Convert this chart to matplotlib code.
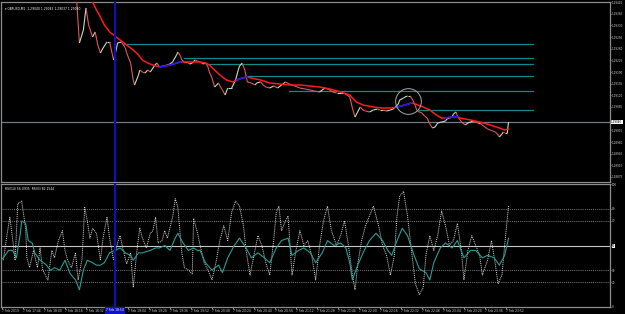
import numpy as np
import matplotlib
matplotlib.use("Agg")
import matplotlib.pyplot as plt
from matplotlib.collections import LineCollection
from matplotlib.transforms import blended_transform_factory

plt.rcParams['font.family'] = ['DejaVu Sans']

# ---------------- data (minutes after 17:28, 7 Feb 2019) ----------------
price_t = [56, 57, 59, 62, 64, 66, 69, 71, 73, 75, 77, 80, 82, 85, 87, 88, 91, 94, 95, 98,
           100, 101, 104, 105, 107, 109, 111, 113, 116, 118, 120, 123, 126, 128, 130, 133, 134, 136, 137, 139,
           141, 143, 145, 147, 149, 151, 153, 155, 157, 158, 160, 162, 165, 166, 168, 170, 172, 175, 178, 180,
           181, 183, 185, 187, 190, 193, 194, 197, 199, 201, 204, 207, 210, 213, 216, 219, 223, 227, 231, 235,
           238, 242, 246, 250, 252, 255, 258, 260, 263, 265, 267, 269, 271, 273, 275, 277, 280, 283, 286, 288,
           290, 293, 296, 298, 299, 302, 303, 306, 307, 309, 311, 313, 315, 316, 318, 320, 322, 324, 326, 328,
           330, 332, 335, 338, 339, 341, 343, 344, 346, 347, 349, 351, 353, 355, 357, 359, 360, 363, 364, 366,
           368, 370, 372, 374, 376, 378, 379, 381, 382, 383, 385, 386]
price_v = [1.29436, 1.29397, 1.29277, 1.29316, 1.29382, 1.29331, 1.29295, 1.29310, 1.29271, 1.29247,
           1.29262, 1.29280, 1.29280, 1.29226, 1.29256, 1.29277, 1.29280, 1.29262, 1.29247, 1.29217,
           1.29166, 1.29151, 1.29181, 1.29196, 1.29190, 1.29187, 1.29196, 1.29190, 1.29208, 1.29217,
           1.29205, 1.29208, 1.29211, 1.29214, 1.29220, 1.29241, 1.29250, 1.29238, 1.29226, 1.29220,
           1.29220, 1.29214, 1.29217, 1.29226, 1.29223, 1.29220, 1.29214, 1.29217, 1.29205, 1.29190,
           1.29172, 1.29145, 1.29157, 1.29148, 1.29136, 1.29121, 1.29142, 1.29142, 1.29166, 1.29196,
           1.29208, 1.29217, 1.29196, 1.29160, 1.29157, 1.29151, 1.29157, 1.29160, 1.29151, 1.29145,
           1.29142, 1.29148, 1.29142, 1.29151, 1.29160, 1.29154, 1.29148, 1.29142, 1.29139, 1.29136,
           1.29133, 1.29130, 1.29142, 1.29136, 1.29130, 1.29127, 1.29127, 1.29127, 1.29121, 1.29115,
           1.29082, 1.29055, 1.29070, 1.29085, 1.29076, 1.29073, 1.29070, 1.29076, 1.29079, 1.29076,
           1.29076, 1.29073, 1.29076, 1.29079, 1.29082, 1.29094, 1.29106, 1.29112, 1.29115, 1.29118,
           1.29118, 1.29106, 1.29088, 1.29076, 1.29070, 1.29067, 1.29058, 1.29052, 1.29034, 1.29022,
           1.29025, 1.29037, 1.29040, 1.29043, 1.29049, 1.29052, 1.29055, 1.29064, 1.29070, 1.29058,
           1.29046, 1.29037, 1.29031, 1.29037, 1.29040, 1.29043, 1.29040, 1.29037, 1.29037, 1.29031,
           1.29025, 1.29019, 1.29016, 1.29013, 1.29010, 1.29001, 1.28995, 1.29004, 1.29010, 1.29007,
           1.29007, 1.29040]

ma_t = [66, 69, 72, 75, 78, 82, 88, 92, 96, 100, 104, 107, 111, 115, 120, 128, 136, 143, 151, 155,
        158, 162, 166, 171, 176, 179, 183, 187, 190, 197, 204, 212, 219, 227, 235, 242, 250, 258, 265, 270,
        275, 283, 290, 297, 301, 307, 312, 315, 321, 326, 331, 335, 338, 342, 347, 349, 357, 364, 372, 379,
        383, 386]
ma_v = [1.29421, 1.29400, 1.29376, 1.29355, 1.29331, 1.29310, 1.29292, 1.29280, 1.29268, 1.29256,
        1.29241, 1.29226, 1.29217, 1.29211, 1.29205, 1.29211, 1.29220, 1.29220, 1.29220, 1.29217,
        1.29211, 1.29196, 1.29181, 1.29166, 1.29160, 1.29166, 1.29172, 1.29175, 1.29172, 1.29166,
        1.29157, 1.29154, 1.29151, 1.29151, 1.29148, 1.29145, 1.29139, 1.29130, 1.29121, 1.29100,
        1.29091, 1.29085, 1.29082, 1.29082, 1.29085, 1.29091, 1.29097, 1.29094, 1.29085, 1.29076,
        1.29061, 1.29052, 1.29052, 1.29055, 1.29055, 1.29052, 1.29046, 1.29040, 1.29031, 1.29022,
        1.29016, 1.29019]
ma_blue = [(120, 141), (179, 187), (301, 312), (338, 347)]

level_start = [93, 139, 157, 185, 219, 318]
level_price = [1.29274, 1.29232, 1.29214, 1.29178, 1.29133, 1.29076]
level_end = 405
last_price = 1.29040
circle_t, circle_p = 309, 1.29103
cursor_t = 86

rsi_fast_t = [1, 4, 6, 8, 10, 12, 15, 18, 19, 21, 24, 27, 29, 31, 35, 38, 40, 43, 46, 48,
              50, 53, 56, 58, 61, 63, 65, 67, 69, 72, 75, 77, 80, 82, 85, 88, 90, 92, 95, 98,
              100, 103, 105, 107, 110, 113, 115, 117, 119, 122, 124, 126, 130, 132, 134, 137, 139, 142, 145, 146,
              149, 151, 154, 157, 160, 163, 166, 169, 172, 175, 178, 181, 184, 186, 189, 192, 195, 198, 201, 204,
              207, 209, 211, 213, 216, 218, 221, 224, 227, 230, 233, 236, 239, 242, 245, 248, 251, 255, 258, 261,
              264, 267, 269, 271, 274, 277, 280, 283, 287, 290, 293, 296, 299, 301, 303, 306, 309, 312, 315, 318,
              321, 323, 326, 329, 332, 335, 338, 341, 344, 347, 350, 352, 355, 358, 361, 364, 366, 370, 373, 376,
              378, 381, 383, 386]
rsi_fast_v = [38, 60, 73, 56, 38, 84, 86, 64, 40, 32, 46, 32, 48, 30, 22, 46, 40, 54, 62, 46,
              38, 32, 44, 22, 39, 81, 70, 56, 64, 60, 38, 56, 73, 56, 38, 52, 58, 48, 35, 44,
              16, 48, 64, 56, 48, 60, 62, 73, 52, 54, 62, 56, 73, 88, 81, 44, 32, 30, 27, 72,
              60, 50, 36, 30, 22, 36, 54, 66, 54, 77, 86, 82, 66, 46, 26, 42, 58, 50, 36, 26,
              54, 77, 82, 62, 70, 74, 26, 46, 62, 50, 54, 42, 22, 50, 70, 82, 62, 50, 58, 70,
              50, 26, 14, 34, 54, 66, 74, 82, 66, 50, 42, 26, 42, 74, 90, 94, 74, 46, 19, 10,
              16, 42, 58, 46, 58, 78, 66, 50, 54, 68, 46, 22, 46, 58, 50, 42, 26, 38, 54, 34,
              19, 26, 50, 82]

rsi_slow_t = [-1, 1, 5, 8, 11, 14, 15, 18, 20, 23, 25, 29, 33, 37, 40, 44, 48, 52, 56, 59,
              62, 65, 69, 72, 75, 78, 82, 86, 90, 94, 98, 100, 104, 107, 113, 117, 120, 124, 128, 132,
              134, 138, 142, 146, 149, 151, 155, 160, 165, 168, 172, 177, 181, 186, 190, 195, 200, 204, 209, 213,
              218, 221, 226, 230, 235, 239, 244, 248, 253, 258, 262, 265, 267, 271, 276, 280, 285, 290, 294, 297,
              301, 305, 309, 314, 318, 323, 326, 329, 334, 338, 343, 347, 352, 357, 361, 366, 370, 375, 379, 383,
              386]
rsi_slow_v = [38, 40, 46, 46, 40, 60, 70, 68, 54, 52, 44, 38, 35, 30, 32, 30, 38, 27, 22, 14,
              30, 38, 36, 34, 34, 36, 44, 46, 48, 44, 42, 38, 44, 44, 46, 48, 48, 50, 46, 56,
              60, 52, 46, 48, 46, 46, 36, 30, 34, 28, 40, 50, 56, 48, 40, 44, 40, 36, 48, 54,
              56, 42, 46, 48, 44, 36, 44, 54, 50, 52, 48, 36, 22, 34, 46, 54, 60, 54, 46, 42,
              54, 64, 58, 42, 31, 28, 22, 36, 48, 52, 48, 54, 40, 46, 46, 40, 42, 40, 34, 42,
              56]
rsi_levels_dotted = [80, 70, 30, 20]
rsi_level_mid = 50

price_ticks = [1.29400, 1.29365, 1.29330, 1.29295, 1.29260, 1.29225, 1.29190, 1.29155, 1.29120,
               1.29085, 1.29015, 1.28980, 1.28945, 1.28910, 1.28875]
rsi_ticks = [0, 20, 30, 50, 70, 80, 100]
time_ticks = list(range(0, 385, 16))
time_labels = ["7 Feb 2019", "7 Feb 17:44", "7 Feb 18:00", "7 Feb 18:16", "7 Feb 18:32", "",
               "7 Feb 19:04", "7 Feb 19:20", "7 Feb 19:36", "7 Feb 19:52", "7 Feb 20:08", "7 Feb 20:24",
               "7 Feb 20:40", "7 Feb 20:56", "7 Feb 21:12", "7 Feb 21:28", "7 Feb 21:44", "7 Feb 22:00",
               "7 Feb 22:16", "7 Feb 22:32", "7 Feb 22:48", "7 Feb 23:04", "7 Feb 23:20", "7 Feb 23:36",
               "7 Feb 23:52"]
cursor_label = "7 Feb 18:54"
title_text = "\u25be GBPUSD,M1  1.29040 1.29043 1.29037 1.29040"
rsi_text = "RSI(14) 56.0935  RSI(3) 82.1544"

# ---------------- figure ----------------
W, H = 625, 314
fig = plt.figure(figsize=(W / 100, H / 100), dpi=100, facecolor='black')
x_left, x_right = 1, 610
ax = fig.add_axes([x_left / W, 1 - 182 / H, (x_right - x_left) / W, 180 / H], facecolor='black')
ax2 = fig.add_axes([x_left / W, 1 - 307 / H, (x_right - x_left) / W, 123 / H], facecolor='black')

xmin, xmax = -0.76, 463.3
grey = '#8c8c8c'
fs_y = 2.0
fs_x = 2.2
for a in (ax, ax2):
    a.set_xlim(xmin, xmax)
    for s in a.spines.values():
        s.set_color(grey)
        s.set_linewidth(0.9)

ax.set_ylim(1.29400 - 0.00003 * 180, 1.29400)
ax2.set_ylim(0, 100)

# price line coloured by direction
pt = np.array(price_t, float)
pv = np.array(price_v, float)
segs = np.stack([np.column_stack([pt[:-1], pv[:-1]]), np.column_stack([pt[1:], pv[1:]])], axis=1)
cols = ['#c2dcc2' if b >= a else '#e05858' for a, b in zip(pv[:-1], pv[1:])]
ax.add_collection(LineCollection(segs, colors=cols, linewidths=0.8, zorder=3))

# level lines
for s, p in zip(level_start, level_price):
    ax.plot([s, level_end], [p, p], color='#0f8a8a', lw=0.9, zorder=2)

# last price line
ax.axhline(last_price, color='#6f7c88', lw=0.9, zorder=1)

# moving average
mt = np.array(ma_t, float)
mv = np.array(ma_v, float)
ax.plot(mt, mv, color='#ff1a1a', lw=1.1, zorder=4)
for a_, b_ in ma_blue:
    m = (mt >= a_) & (mt <= b_)
    ax.plot(mt[m], mv[m], color='#1a1aff', lw=1.2, zorder=5)

# circle marker
ax.plot([circle_t], [circle_p], marker='o', ms=18.5, mfc='none', mec='#a8a8a8', mew=0.7, zorder=6)

# cursor line
for a in (ax, ax2):
    a.axvline(cursor_t, color='#1010b0', lw=1.6, zorder=7)

# price axis
ax.set_xticks([])
ax.yaxis.tick_right()
ax.set_yticks(price_ticks)
ax.set_yticklabels([f"{v:.5f}" for v in price_ticks])
ax.tick_params(axis='y', length=1.0, width=0.5, colors='#d0d0d0', labelsize=fs_y, pad=0.4)
ax.text(1.002, last_price, f"{last_price:.5f}", transform=blended_transform_factory(ax.transAxes, ax.transData),
        fontsize=fs_y, color='black', va='center', ha='left',
        bbox=dict(facecolor='white', edgecolor='none', pad=0.2), clip_on=False, zorder=10)
ax.text(0.006, 0.975, title_text, transform=ax.transAxes, fontsize=fs_x, color='white', va='top', ha='left')

# RSI panel
ax2.plot(rsi_fast_t, rsi_fast_v, color='#d8d8d8', lw=0.7, ls=(0, (1, 1)), zorder=3)
ax2.plot(rsi_slow_t, rsi_slow_v, color='#2a9d94', lw=0.8, zorder=4)
for lv in rsi_levels_dotted:
    ax2.axhline(lv, color='#a0a0a0', lw=0.6, ls=(0, (1, 1.5)), zorder=1)
ax2.axhline(rsi_level_mid, color='#c8c8c8', lw=0.8, zorder=1)
ax2.text(0.006, 0.975, rsi_text, transform=ax2.transAxes, fontsize=fs_x, color='white', va='top', ha='left')

ax2.yaxis.tick_right()
ax2.set_yticks(rsi_ticks)
ax2.set_yticklabels([str(v) for v in rsi_ticks])
ax2.tick_params(axis='y', length=1.0, width=0.5, colors='#d0d0d0', labelsize=fs_y, pad=0.4)
for lbl in ax2.get_yticklabels():
    if lbl.get_text() == str(rsi_level_mid):
        lbl.set_color('black')
        lbl.set_bbox(dict(facecolor='white', edgecolor='none', pad=0.2))

ax2.set_xticks(time_ticks)
ax2.set_xticklabels(time_labels)
ax2.tick_params(axis='x', length=1.2, width=0.5, colors='#d0d0d0', labelsize=fs_x, pad=0.6)
for lbl in ax2.get_xticklabels():
    lbl.set_ha('left')
ax2.text(cursor_t, -0.012, cursor_label, transform=blended_transform_factory(ax2.transData, ax2.transAxes),
         fontsize=fs_x, color='white', va='top', ha='center',
         bbox=dict(facecolor='#1010c8', edgecolor='none', pad=0.9), clip_on=False, zorder=10)

fig.savefig('out.png', dpi=100, facecolor='black')
